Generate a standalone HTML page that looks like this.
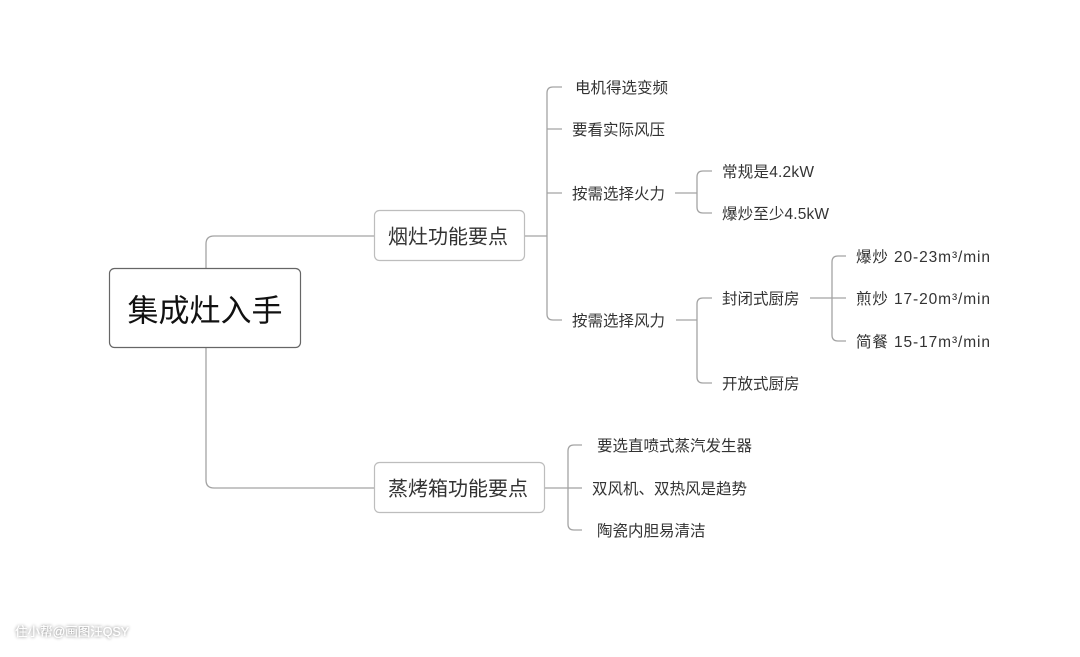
<!DOCTYPE html>
<html><head><meta charset="utf-8"><style>
html,body{margin:0;padding:0;background:#fff;}
svg{display:block;}
text{font-family:"Liberation Sans","Noto Sans CJK SC","Microsoft YaHei",sans-serif;fill:#333;dominant-baseline:central;}
</style></head><body>
<svg width="1080" height="657" viewBox="0 0 1080 657" xmlns="http://www.w3.org/2000/svg">
<g fill="none" stroke="#a3a3a3" stroke-width="1.3">
<path d="M206,269 V244 Q206,236 214,236 H374"/>
<path d="M206,348 V480 Q206,488 214,488 H374"/>
<path d="M525,236 H547"/>
<path d="M562,87 H553 Q547,87 547,93 V314 Q547,320 553,320 H562"/>
<path d="M547,129 H562 M547,193 H562"/>
<path d="M545,488 H568"/>
<path d="M582,445 H574 Q568,445 568,451 V524 Q568,530 574,530 H582"/>
<path d="M568,488 H582"/>
<path d="M675,193 H697"/>
<path d="M712,171 H703 Q697,171 697,177 V207 Q697,213 703,213 H712"/>
<path d="M676,320 H697"/>
<path d="M712,298 H703 Q697,298 697,304 V377 Q697,383 703,383 H712"/>
<path d="M810,298 H846"/>
<path d="M846,256 H838 Q832,256 832,262 V335 Q832,341 838,341 H846"/>
</g>
<rect x="109.5" y="268.5" width="191" height="79" rx="5" fill="#fff" stroke="#666" stroke-width="1.2"/>
<rect x="374.5" y="210.5" width="150" height="50" rx="5" fill="#fff" stroke="#bdbdbd" stroke-width="1.2"/>
<rect x="374.5" y="462.5" width="170" height="50" rx="5" fill="#fff" stroke="#bdbdbd" stroke-width="1.2"/>
<text x="205" y="311" font-size="31" text-anchor="middle" style="fill:#111">集成灶入手</text>
<text x="388" y="237.5" font-size="20">烟灶功能要点</text>
<text x="388" y="489.5" font-size="20">蒸烤箱功能要点</text>
<g font-size="15.5">
<text x="575" y="88.5">电机得选变频</text>
<text x="572" y="130.5">要看实际风压</text>
<text x="572" y="194.5">按需选择火力</text>
<text x="572" y="321.5">按需选择风力</text>
<text x="722" y="172.5" textLength="92" lengthAdjust="spacing">常规是4.2kW</text>
<text x="722" y="214.5" textLength="107" lengthAdjust="spacing">爆炒至少4.5kW</text>
<text x="722" y="299.5">封闭式厨房</text>
<text x="722" y="384.5">开放式厨房</text>
<text x="856" y="257.5" textLength="134" lengthAdjust="spacing">爆炒 20-23m³/min</text>
<text x="856" y="299.5" textLength="134" lengthAdjust="spacing">煎炒 17-20m³/min</text>
<text x="856" y="342.5" textLength="134" lengthAdjust="spacing">简餐 15-17m³/min</text>
<text x="597" y="446.5">要选直喷式蒸汽发生器</text>
<text x="592" y="489.5">双风机、双热风是趋势</text>
<text x="597" y="531.5">陶瓷内胆易清洁</text>
</g>
<defs><filter id="sh" x="-20%" y="-50%" width="140%" height="200%"><feGaussianBlur in="SourceAlpha" stdDeviation="1.5"/><feComponentTransfer><feFuncA type="linear" slope="0.6"/></feComponentTransfer><feMerge><feMergeNode/><feMergeNode in="SourceGraphic"/></feMerge></filter></defs>
<text x="15" y="632" font-size="12.5" style="fill:#fff" filter="url(#sh)">住小帮@画图汪QSY</text>
</svg>
</body></html>
